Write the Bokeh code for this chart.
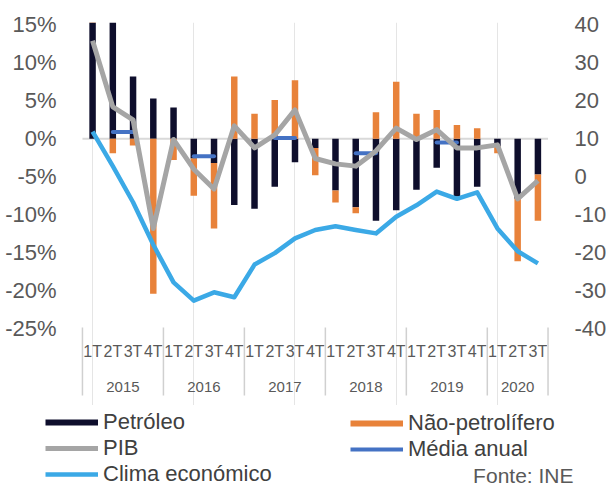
from bokeh.plotting import figure
from bokeh.models import (Range1d, LinearAxis, FixedTicker, PrintfTickFormatter,
                          Legend, LegendItem, Label)
from bokeh.core.properties import value
from bokeh.embed import file_html
from bokeh.resources import INLINE

# ---------------- data ----------------
years = ["2015", "2016", "2017", "2018", "2019", "2020"]
quarters_per_year = [4, 4, 4, 4, 4, 3]
quarter_names = ["1T", "2T", "3T", "4T"]

petroleo = [15.4, 15.4, 8.2, 5.3, 4.1, -2.6, -3.2, -8.7, -9.2, -6.3, -3.1, -1.2,
            -6.8, -9.0, -10.8, -9.4, -6.7, -3.8, -7.6, -6.3, -1.0, -7.9, -4.7]
nao_petrolifero = [0.0, -1.9, -0.9, -20.4, -2.8, -4.9, -8.6, 8.2, 3.3, 5.1, 7.7, -3.6,
                   -1.6, -0.8, 3.5, 7.5, 3.3, 3.8, 1.8, 1.4, -0.9, -8.2, -6.1]
pib = [12.9, 4.2, 2.5, -11.8, -0.1, -4.0, -6.6, 1.7, -1.2, 0.5, 3.8, -2.6,
       -3.3, -3.6, -1.6, 1.4, -0.1, 1.2, -1.2, -1.2, -0.8, -7.9, -5.5]
media_anual = [0.9, -2.3, 0.1, -1.9, -0.5]          # 2015..2019
clima = [11.9, 2.8, -6.7, -17.9, -27.8, -32.6, -30.4, -31.7, -23.1, -20.1, -16.2, -14.0,
         -13.0, -14.0, -14.9, -10.5, -7.5, -3.9, -5.8, -4.1, -13.6, -19.6, -22.8]

left_ticks = [-25, -20, -15, -10, -5, 0, 5, 10, 15]
right_ticks = [-40, -30, -20, -10, 0, 10, 20, 30, 40]

# ---------------- derived ----------------
n = len(petroleo)
xs = list(range(n))
pet_top = petroleo
pet_bottom = [0.0] * n
non_bottom = [p if (p >= 0) == (q >= 0) else 0.0 for p, q in zip(petroleo, nao_petrolifero)]
non_top = [b + q for b, q in zip(non_bottom, nao_petrolifero)]

q_x, q_lab = [], []
y_x, y_lab = [], []
sep_x = [-0.5]
start = 0
for yr, cnt in zip(years, quarters_per_year):
    for k in range(cnt):
        q_x.append(start + k)
        q_lab.append(quarter_names[k])
    y_x.append(start + (cnt - 1) / 2)
    y_lab.append(yr)
    start += cnt
    sep_x.append(start - 0.5)

m_x0 = [4 * k + 1 for k in range(len(media_anual))]
m_x1 = [4 * k + 2 for k in range(len(media_anual))]

# ---------------- main chart ----------------
W = 609
H1 = 405
H2 = 83
TOP = 22
LEFT = 70
RIGHT = 563
Y_TOP = 15.3
PX = 7.6
Y_BOT = Y_TOP - (H1 - TOP) / PX
X0_PAGE, X_STEP = 92.3, 20.45

def yv(page_y):
    return Y_TOP - (page_y - TOP) / PX

p = figure(width=W, height=H1, output_backend="svg", toolbar_location=None,
           x_range=Range1d((LEFT - X0_PAGE) / X_STEP, (RIGHT - X0_PAGE) / X_STEP),
           y_range=Range1d(Y_BOT, Y_TOP),
           x_axis_location=None, min_border_left=LEFT, min_border_right=W - RIGHT,
           min_border_top=TOP, min_border_bottom=0)
p.outline_line_color = None
p.ygrid.visible = False
p.extra_y_ranges = {"right": Range1d(2 * Y_BOT + 10, 2 * Y_TOP + 10)}

FONT = "Liberation Sans"
TXT = "#595959"

ax = p.yaxis[0]
ax.ticker = FixedTicker(ticks=left_ticks)
ax.formatter = PrintfTickFormatter(format="%d%%")
ax.axis_line_color = None
ax.major_tick_line_color = None
ax.minor_tick_line_color = None
ax.major_label_text_font = FONT
ax.major_label_text_font_size = "22px"
ax.major_label_text_color = TXT
ax.major_label_standoff = 8

rax = LinearAxis(y_range_name="right", ticker=FixedTicker(ticks=right_ticks),
                 formatter=PrintfTickFormatter(format="%d"))
rax.axis_line_color = None
rax.major_tick_line_color = None
rax.minor_tick_line_color = None
rax.major_label_text_font = FONT
rax.major_label_text_font_size = "22px"
rax.major_label_text_color = TXT
rax.major_label_standoff = 10
p.add_layout(rax, "right")

COL_PET = "#0E0E2C"
COL_NON = "#E8823A"
COL_MED = "#4472C4"
COL_PIB = "#A5A5A5"
COL_CLI = "#3BA9E6"

# zero line
p.segment(x0=[-0.5], y0=[0], x1=[n - 0.5], y1=[0], line_color="#D9D9D9", line_width=2)

# bars
p.vbar(x=xs, width=0.32, top=pet_top, bottom=pet_bottom, fill_color=COL_PET, line_color=None)
p.vbar(x=xs, width=0.32, top=non_top, bottom=non_bottom, fill_color=COL_NON, line_color=None)

# média anual
p.segment(x0=m_x0, y0=media_anual, x1=m_x1, y1=media_anual,
          line_color=COL_MED, line_width=4, line_cap="round")

# PIB
p.line(xs, pib, line_color=COL_PIB, line_width=5, line_join="round")

# clima (right axis)
p.line(xs, clima, line_color=COL_CLI, line_width=4.5, line_join="round", y_range_name="right")

# category axis (two levels)
p.text(x=q_x, y=[yv(351)] * len(q_x), text=q_lab, text_align="center",
       text_baseline="middle", text_font=value(FONT), text_font_size="16px",
       text_color=TXT)
p.text(x=y_x, y=[yv(386)] * len(y_x), text=y_lab, text_align="center",
       text_baseline="middle", text_font=value(FONT), text_font_size="15px",
       text_color=TXT)
p.segment(x0=sep_x, y0=[yv(327)] * len(sep_x), x1=sep_x, y1=[yv(395)] * len(sep_x),
          line_color="#D0D0D0", line_width=1.5)

# ---------------- legend panel (separate root, full-width frame) ----------------
lp = figure(width=W, height=H2, output_backend="svg", toolbar_location=None,
            x_range=Range1d(0, 1), y_range=Range1d(0, 1),
            x_axis_location=None, y_axis_location=None,
            min_border_left=0, min_border_right=0, min_border_top=0, min_border_bottom=0)
lp.outline_line_color = None
lp.grid.visible = False

nan = float("nan")
g_pet = lp.line([nan], [nan], line_color=COL_PET, line_width=6)
g_non = lp.line([nan], [nan], line_color=COL_NON, line_width=6)
g_pib = lp.line([nan], [nan], line_color=COL_PIB, line_width=5)
g_med = lp.line([nan], [nan], line_color=COL_MED, line_width=4)
g_cli = lp.line([nan], [nan], line_color=COL_CLI, line_width=4.5)

PAGE_BOTTOM = H1 + H2
LH = 25.3

def mk_legend(items, x_page, top_page, nrows):
    lg = Legend(items=items, location=(x_page, PAGE_BOTTOM - (top_page + nrows * LH)),
                glyph_width=53, glyph_height=24, label_standoff=5, padding=0, margin=0,
                spacing=0, border_line_color=None, background_fill_alpha=0,
                label_text_font=FONT, label_text_font_size="22px",
                label_text_color="#404040", label_height=20)
    lp.add_layout(lg)

mk_legend([LegendItem(label="Petróleo", renderers=[g_pet]),
           LegendItem(label="PIB", renderers=[g_pib]),
           LegendItem(label="Clima económico", renderers=[g_cli])], 45, 411, 3)
mk_legend([LegendItem(label="Não-petrolífero", renderers=[g_non]),
           LegendItem(label="Média anual", renderers=[g_med])], 350, 411, 2)

lp.add_layout(Label(x=573, y=PAGE_BOTTOM - 475, text="Fonte: INE", x_units="screen",
                    y_units="screen", text_align="right", text_baseline="middle",
                    text_font=FONT, text_font_size="21px", text_color=TXT))

open("out.html", "w").write(file_html([p, lp], INLINE))
